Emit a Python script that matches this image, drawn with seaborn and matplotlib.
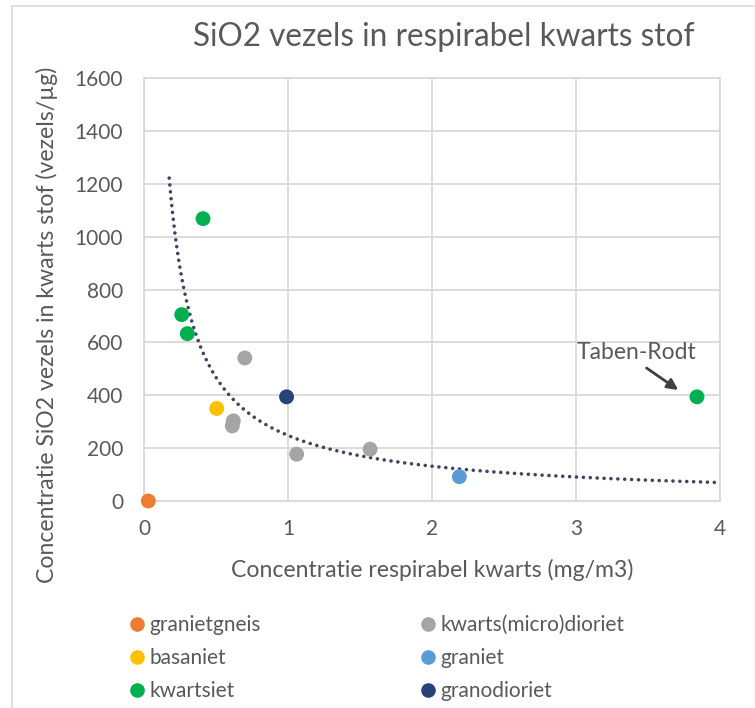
import numpy as np
import pandas as pd
import matplotlib
matplotlib.use('Agg')
import matplotlib.pyplot as plt
import seaborn as sns
from matplotlib.patches import Rectangle

# gesteente-types en kleuren (volgorde zoals in de legenda)
soorten = ['granietgneis', 'basaniet', 'kwartsiet',
           'kwarts(micro)dioriet', 'graniet', 'granodioriet']
kleuren = ['#ED7D31', '#FFC000', '#00B050', '#A5A5A5', '#5B9BD5', '#264478']

# meetpunten
kwarts = [0.03, 0.505, 0.41, 0.262, 0.301, 3.84,
          0.70, 0.62, 0.613, 1.06, 1.57, 2.19, 0.99]
vezels = [0, 350, 1068, 705, 633, 394,
          541, 303, 284, 177, 196, 92, 394]
soort = ['granietgneis', 'basaniet', 'kwartsiet', 'kwartsiet', 'kwartsiet', 'kwartsiet',
         'kwarts(micro)dioriet', 'kwarts(micro)dioriet', 'kwarts(micro)dioriet',
         'kwarts(micro)dioriet', 'kwarts(micro)dioriet', 'graniet', 'granodioriet']
uitschieter = 'Taben-Rodt'
uitschieter_idx = 5

trend_start = 0.175
trend_eind = 4.0

df = pd.DataFrame({'kwarts': kwarts, 'vezels': vezels, 'soort': soort})

# macht-trendlijn (zoals Excel), zonder Taben-Rodt en zonder nulwaarde
fit = df.drop(index=uitschieter_idx)
fit = fit[(fit['kwarts'] > 0) & (fit['vezels'] > 0)]
b, ln_a = np.polyfit(np.log(fit['kwarts']), np.log(fit['vezels']), 1)
tx = np.linspace(trend_start, trend_eind, 300)
ty = np.exp(ln_a) * tx ** b

sns.set_style('white')
plt.rcParams['font.family'] = ['Lato', 'DejaVu Sans']
grijs = '#595959'

fig = plt.figure(figsize=(7.55, 7.08), dpi=100)
ax = fig.add_axes([144 / 755, 1 - 501 / 708, 576 / 755, 423 / 708])

# kaderlijn van de grafiek
fig.add_artist(Rectangle((12 / 755, -0.05), 1.2, 1.05 - 6 / 708,
                         transform=fig.transFigure, fill=False,
                         edgecolor='#d9d9d9', lw=1.2))

ax.plot(tx, ty, color='#3d4560', lw=2.6, linestyle=(0, (0.01, 1.9)),
        dash_capstyle='round', zorder=2)

sns.scatterplot(data=df, x='kwarts', y='vezels', hue='soort', hue_order=soorten,
                palette=kleuren, s=115, edgecolor='none', ax=ax, zorder=3,
                clip_on=False, legend=False)

ax.set_xlim(0, 4)
ax.set_ylim(0, 1600)
ax.set_xticks(range(0, 5))
ax.set_yticks(range(0, 1601, 200))
ax.grid(True, color='#d9d9d9', lw=1.3)
ax.set_axisbelow(True)
for sp in ax.spines.values():
    sp.set_color('#d9d9d9')
    sp.set_linewidth(1.3)
ax.tick_params(length=0, labelsize=15, labelcolor=grijs)
ax.tick_params(axis='y', pad=15)
ax.tick_params(axis='x', pad=13)
ax.set_xlabel('')
ax.set_ylabel('')

# label + pijl bij Taben-Rodt
ax.text(3.42, 563, uitschieter, ha='center', va='center', fontsize=16.5, color=grijs)
ax.annotate('', xy=(3.71, 420), xytext=(3.49, 503),
            arrowprops=dict(arrowstyle='-|>', color='#404040', lw=2,
                            mutation_scale=16, shrinkA=0, shrinkB=0))

fig.text(444 / 755, 1 - 37 / 708, 'SiO2 vezels in respirabel kwarts stof',
         ha='center', va='center', fontsize=22.7, color=grijs)
fig.text(432 / 755, 1 - 570 / 708, 'Concentratie respirabel kwarts (mg/m3)',
         ha='center', va='center', fontsize=16.6, color=grijs)
fig.text(47 / 755, 1 - 325 / 708, 'Concentratie SiO2 vezels in kwarts stof (vezels/µg)',
         ha='center', va='center', rotation=90, fontsize=16.6, color=grijs)

# legenda in twee kolommen
handles = [plt.Line2D([], [], marker='o', ls='', color=k, markersize=9.5) for k in kleuren]
for kol, x0 in enumerate([131 / 755, 422 / 755]):
    fig.legend(handles[kol * 3:kol * 3 + 3], soorten[kol * 3:kol * 3 + 3],
               loc='upper left', bbox_to_anchor=(x0, 1 - 615 / 708), frameon=False,
               fontsize=15, labelcolor=grijs, handlelength=0.6, handletextpad=0.3,
               labelspacing=0.62, borderpad=0, borderaxespad=0)

fig.savefig('out.png', dpi=100)
